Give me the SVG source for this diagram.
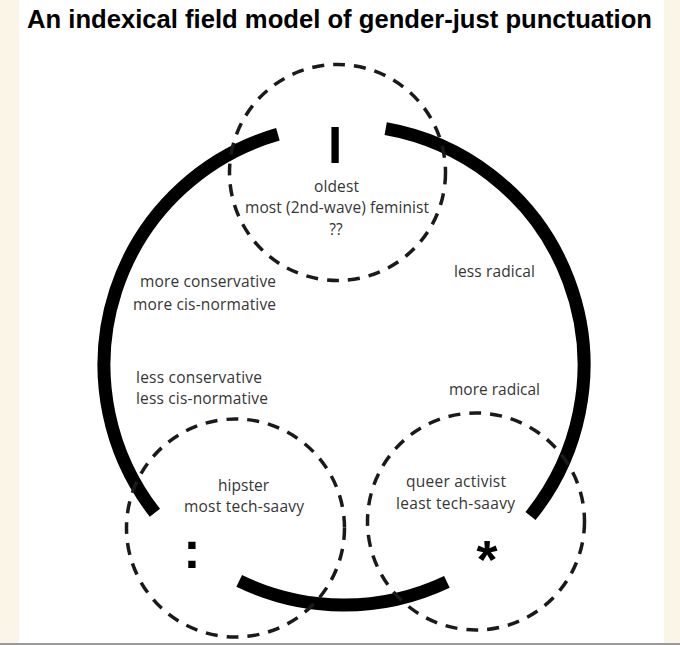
<svg xmlns="http://www.w3.org/2000/svg" width="680" height="645" viewBox="0 0 680 645">
  <style>
    .title { font-family: "Liberation Sans", Arial, sans-serif; font-weight: bold; font-size: 26px; fill: #000; }
    .lbl { font-family: "Open Sans", "Noto Sans", sans-serif; font-size: 15.5px; fill: #363636; }
    .sym { font-family: "Liberation Sans", Arial, sans-serif; font-weight: bold; fill: #000; text-anchor: middle; }
    .dash { fill: none; stroke: #1a1a1a; stroke-width: 3.5; stroke-dasharray: 12 9; }
    .arc { fill: none; stroke: #000; stroke-width: 13; stroke-linecap: butt; }
    .mid { text-anchor: middle; }
  </style>
  <rect x="0" y="0" width="680" height="645" fill="#faf5e7"/>
  <rect x="19" y="0" width="645" height="643" fill="#ffffff"/>
  <rect x="0" y="643" width="680" height="2" fill="#9a9a9a"/>

  <text class="title" x="27" y="28" textLength="625" lengthAdjust="spacingAndGlyphs">An indexical field model of gender-just punctuation</text>

  <g id="connectors">
    <path class="arc" d="M385.7 128.6 A240 240 0 0 1 530.5 516"/>
    <path class="arc" d="M446.9 581.8 A240 240 0 0 1 239.2 580.9"/>
    <path class="arc" d="M154.9 512.8 A240 240 0 0 1 277.9 134.3"/>
  </g>

  <g id="node-binnen-i">
    <circle class="dash" cx="337.5" cy="172.5" r="108"/>
    <text class="sym" x="335" y="163" font-size="51">I</text>
    <text class="lbl mid" x="336.5" y="192" textLength="45">oldest</text>
    <text class="lbl mid" x="337" y="213" textLength="184">most (2nd-wave) feminist</text>
    <text class="lbl mid" x="336" y="235">??</text>
  </g>

  <g id="node-colon">
    <circle class="dash" cx="235.5" cy="528" r="109"/>
    <text class="sym" x="192" y="568" font-size="52">:</text>
    <text class="lbl mid" x="243.5" y="491" textLength="51">hipster</text>
    <text class="lbl mid" x="244" y="512" textLength="120">most tech-saavy</text>
  </g>

  <g id="node-star">
    <circle class="dash" cx="476" cy="521.5" r="108.5"/>
    <text class="sym" x="487" y="578" font-size="54">*</text>
    <text class="lbl mid" x="456" y="487" textLength="100">queer activist</text>
    <text class="lbl mid" x="455.5" y="509" textLength="119">least tech-saavy</text>
  </g>

  <g id="labels-left">
    <text class="lbl" x="140" y="287" textLength="136">more conservative</text>
    <text class="lbl" x="133" y="310" textLength="143">more cis-normative</text>
    <text class="lbl" x="136" y="383" textLength="126">less conservative</text>
    <text class="lbl" x="136" y="404" textLength="132">less cis-normative</text>
  </g>

  <g id="labels-right">
    <text class="lbl" x="454" y="277" textLength="81">less radical</text>
    <text class="lbl" x="449" y="395" textLength="91">more radical</text>
  </g>
</svg>
